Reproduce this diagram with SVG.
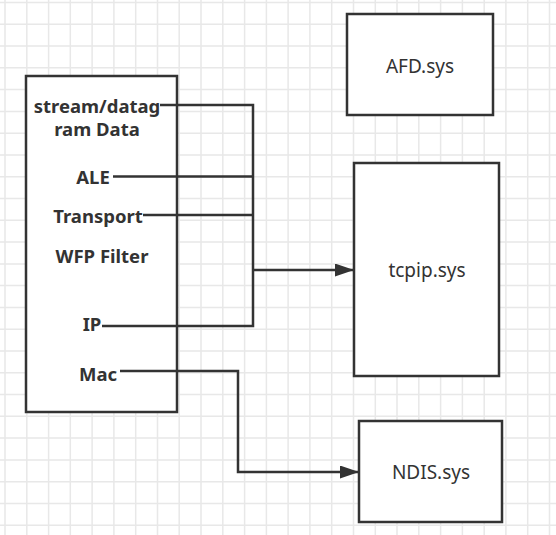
<svg xmlns="http://www.w3.org/2000/svg" width="556" height="535" viewBox="0 0 556 535">
<defs>
<style>
.grid{stroke:#e8e8e8;stroke-width:1.5;fill:none}
.box{fill:#fff;stroke:#333;stroke-width:2.5}
.lbl{font-family:"Noto Sans","Open Sans",sans-serif;font-size:18.5px;font-weight:bold;fill:#333;text-anchor:middle;dominant-baseline:central}
.name{font-family:"Noto Sans","Open Sans",sans-serif;font-size:19px;fill:#333;text-anchor:middle;dominant-baseline:central}
.conn{fill:none;stroke:#333;stroke-width:2.5}
</style>
<marker id="arr" markerWidth="19" markerHeight="13" refX="18" refY="6.5" orient="auto" markerUnits="userSpaceOnUse" viewBox="0 0 19 13">
<path d="M0,0 L19,6.5 L0,13 Z" fill="#333"/>
</marker>
</defs>
<rect width="556" height="535" fill="#fff"/>
<path class="grid" d="M5,0V535M26.8,0V535M48.6,0V535M70.3,0V535M92.1,0V535M113.9,0V535M135.7,0V535M157.5,0V535M179.2,0V535M201,0V535M222.8,0V535M244.6,0V535M266.4,0V535M288.1,0V535M309.9,0V535M331.7,0V535M353.5,0V535M375.3,0V535M397,0V535M418.8,0V535M440.6,0V535M462.4,0V535M484.2,0V535M505.9,0V535M527.7,0V535M549.5,0V535M0,2.5H556M0,24.3H556M0,46.1H556M0,67.8H556M0,89.6H556M0,111.4H556M0,133.2H556M0,155H556M0,176.7H556M0,198.5H556M0,220.3H556M0,242.1H556M0,263.9H556M0,285.6H556M0,307.4H556M0,329.2H556M0,351H556M0,372.8H556M0,394.5H556M0,416.3H556M0,438.1H556M0,459.9H556M0,481.7H556M0,503.4H556M0,525.2H556"/>
<g id="wfp">
<rect class="box" x="26" y="76" width="151" height="336"/>
<text class="lbl" x="97" y="105">stream/datag</text>
<text class="lbl" x="97" y="128">ram Data</text>
<text class="lbl" x="93" y="176">ALE</text>
<text class="lbl" x="98" y="215">Transport</text>
<text class="lbl" x="102" y="255">WFP Filter</text>
<text class="lbl" x="92" y="323">IP</text>
<text class="lbl" x="98" y="373">Mac</text>
</g>
<g id="afd">
<rect class="box" x="347" y="14" width="146" height="101"/>
<text class="name" x="420" y="66">AFD.sys</text>
</g>
<g id="tcpip">
<rect class="box" x="354" y="163" width="145" height="213"/>
<text class="name" x="427" y="270">tcpip.sys</text>
</g>
<g id="ndis">
<rect class="box" x="359" y="421" width="143" height="101"/>
<text class="name" x="431" y="472">NDIS.sys</text>
</g>
<g id="connectors">
<path class="conn" d="M160,105H253V326H102"/>
<path class="conn" d="M113,176.5H253"/>
<path class="conn" d="M143,215H253"/>
<path class="conn" d="M253,270H353" marker-end="url(#arr)"/>
<path class="conn" d="M120,371H238V472H358" marker-end="url(#arr)"/>
</g>
</svg>
